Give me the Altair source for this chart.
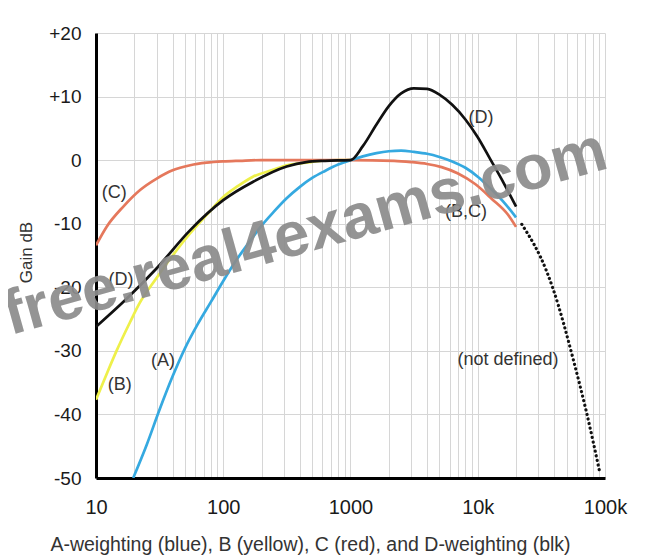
import altair as alt
import pandas as pd

# ---- data ----
A_f = [19.6, 25, 31.5, 40, 50, 63, 80, 100, 125, 160, 200, 250, 315, 400, 500, 630, 800, 1000, 1250, 1600, 2000, 2500, 3150, 4000, 5000, 6300, 8000, 10000, 12500, 16000, 20000]
A_db = [-50, -44.8, -39.3, -34.0, -29.6, -25.8, -22.3, -19.0, -15.9, -12.9, -10.3, -8.1, -6.0, -4.2, -2.8, -1.7, -0.7, 0, 0.6, 1.1, 1.4, 1.5, 1.3, 1.0, 0.5, -0.2, -1.2, -2.6, -4.4, -6.6, -9.0]

B_f = [10, 12.5, 14.5, 18.5, 22, 30, 40, 55, 75, 100, 130, 171, 240, 315, 450, 600, 800, 1000]
B_db = [-37.7, -33.0, -30.0, -25.5, -22.5, -18.5, -15.0, -11.5, -8.5, -5.8, -4.1, -2.6, -1.6, -0.8, -0.4, -0.1, 0, 0]

C_f = [10, 12.1, 16.4, 22.2, 30, 40, 55, 74, 100, 135, 200, 500, 1000, 2200, 3000, 4000, 5200, 7000, 9600, 12900, 17300, 20000]
C_db = [-13.4, -10.5, -7.3, -4.7, -2.9, -1.6, -0.8, -0.4, -0.2, -0.1, 0, 0, 0, -0.1, -0.3, -0.6, -1.1, -2.1, -3.8, -6.1, -8.6, -10.5]

D_f = [10, 17.4, 30, 55, 100, 172, 315, 450, 630, 1000, 1250, 1600, 2000, 2500, 3150, 4000, 5000, 6300, 8000, 10000, 12500, 16000, 20000]
D_db = [-26.2, -21.8, -17.0, -11.0, -6.3, -3.4, -1.0, -0.3, -0.1, 0, 2.2, 5.6, 8.5, 10.5, 11.3, 11.2, 10.3, 8.7, 6.4, 3.6, 0.2, -3.6, -7.3]

N_f = [22200, 34800, 39300, 56400, 71800, 91400]
N_db = [-10.1, -17.5, -20.4, -31.4, -39.8, -49.3]

lab_text = ["(C)", "(D)", "(B)", "(A)", "(D)", "(B,C)", "(not defined)"]
lab_f = [13.9, 15.7, 15.4, 33.6, 10600, 8100, 17300]
lab_db = [-5.2, -18.9, -35.4, -31.6, 6.6, -8.2, -31.4]

wm_text = ["free.real4exams.com"]
wm_f = [439]
wm_db = [-11.5]

x_tick_vals = [10, 100, 1000, 10000, 100000]
x_tick_labels = ["10", "100", "1000", "10k", "100k"]
y_tick_vals = [-50, -40, -30, -20, -10, 0, 10, 20]

x_title = "A-weighting (blue), B (yellow), C (red), and D-weighting (blk)"
y_title = "Gain dB"

# ---- build tables ----
rows = []
for name, fs, ds in [("A", A_f, A_db), ("B", B_f, B_db), ("C", C_f, C_db),
                     ("D", D_f, D_db), ("N", N_f, N_db)]:
    for f, d in zip(fs, ds):
        rows.append({"f": f, "db": d, "curve": name})
df = pd.DataFrame(rows)
lab_df = pd.DataFrame({"f": lab_f, "db": lab_db, "t": lab_text})
wm_df = pd.DataFrame({"f": wm_f, "db": wm_db, "t": wm_text})

grid_vals = []
for dec in [10, 100, 1000, 10000]:
    for m in range(1, 10):
        grid_vals.append(dec * m)
grid_vals.append(100000)

label_expr = ""
for v, l in zip(x_tick_vals, x_tick_labels):
    label_expr += f"datum.value == {v} ? '{l}' : "
label_expr += "''"

FONT = "Liberation Sans"

x_enc = alt.X(
    "f:Q",
    scale=alt.Scale(type="log", domain=[10, 100000], nice=False),
    axis=alt.Axis(
        values=grid_vals, labelExpr=label_expr, labelOverlap=False, labelFlush=False,
        grid=True, gridColor="#d6d6d6", gridWidth=1, ticks=False, tickSize=0,
        domainColor="#000000", domainWidth=3, labelFontSize=20, labelFont=FONT,
        labelColor="#1a1a1a", labelPadding=19,
        title=x_title, titleFont=FONT, titleFontSize=19.5, titleFontWeight="normal",
        titleColor="#333333", titleX=214, titleY=66, titleAlign="center",
        titleBaseline="middle",
    ),
)
y_enc = alt.Y(
    "db:Q",
    scale=alt.Scale(domain=[-50, 20], nice=False),
    axis=alt.Axis(
        values=y_tick_vals,
        labelExpr="datum.value > 0 ? '+' + datum.value : '' + datum.value",
        grid=True, gridColor="#d6d6d6", gridWidth=1, ticks=False, tickSize=0,
        domainColor="#000000", domainWidth=3, labelFontSize=19, labelFont=FONT,
        labelColor="#1a1a1a", labelPadding=15,
        title=y_title, titleFont=FONT, titleFontSize=17, titleFontWeight="normal",
        titleColor="#333333", titleX=-70, titleY=219, titleAngle=270,
        titleAlign="center", titleBaseline="middle",
    ),
)

base = alt.Chart(df)


def curve(name, color, width=2.7, **kw):
    return base.transform_filter(alt.datum.curve == name).mark_line(
        color=color, strokeWidth=width, clip=True, interpolate="monotone", **kw
    ).encode(x=x_enc, y=y_enc, order="f:Q")


lineB = curve("B", "#eef04a")
lineC = curve("C", "#e5785c")
lineA = curve("A", "#35a9e0")
lineD = curve("D", "#111111")
lineN = curve("N", "#111111", width=3.2, strokeDash=[0.1, 4.6], strokeCap="round")

labels = alt.Chart(lab_df).mark_text(
    font=FONT, fontSize=18, color="#333333", align="center", baseline="middle"
).encode(x=x_enc, y=y_enc, text="t:N")

watermark = alt.Chart(wm_df).mark_text(
    font=FONT, fontSize=63, fontWeight="bold", color="#8c8c8c", opacity=0.92,
    align="center", baseline="middle", angle=344.4
).encode(x=x_enc, y=y_enc, text="t:N")

chart = alt.layer(lineB, lineC, lineA, lineD, lineN, labels, watermark).properties(
    width=509, height=445,
    padding={"left": 88, "top": 25, "right": 33, "bottom": 80},
    autosize=alt.AutoSizeParams(type="none"),
    background="white",
).configure_view(strokeWidth=0)

chart.save("out.html", embed_options={"renderer": "svg", "actions": False})
